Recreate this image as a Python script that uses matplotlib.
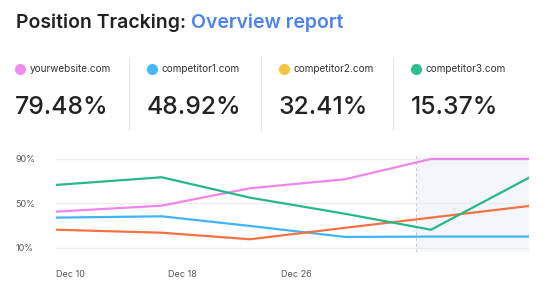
import matplotlib
matplotlib.use("Agg")
import matplotlib.pyplot as plt
from matplotlib.lines import Line2D

plt.rcParams['font.family'] = ['Inter', 'DejaVu Sans']

# ---- data ----
sites = ["yourwebsite.com", "competitor1.com", "competitor2.com", "competitor3.com"]
shares = ["79.48%", "48.92%", "32.41%", "15.37%"]
dot_colors = ["#f08de9", "#45b7fd", "#f6c443", "#2cc08f"]

days = [0, 7.52, 13.8, 20.55, 26.67, 33.64]  # days after Dec 10
your_site = [42.5, 47.9, 63.6, 71.7, 90, 90]
comp1 = [37.1, 38.3, 29.6, 19.7, 20, 20]
comp2 = [26.2, 23.5, 17.6, 27.9, 37.1, 47.6]
comp3 = [66.6, 73.5, 55.1, 40.6, 26.2, 73.1]
line_colors = ["#ee86ea", "#40b4f7", "#f27243", "#27b888"]

xtick_days = [0, 8, 16]
xtick_labels = ["Dec 10", "Dec 18", "Dec 26"]
ytick_vals = [10, 50, 90]
ytick_labels = ["10%", "50%", "90%"]
forecast_start = 25.6

W, H = 546, 301
fig = plt.figure(figsize=(W / 100, H / 100), dpi=100)
fig.patch.set_facecolor("white")

def fx(px):
    return px / W

def fy(py):
    return 1 - py / H

# header
t1 = fig.text(fx(16), fy(23), "Position Tracking: ", fontsize=14, fontweight="semibold",
              color="#222222", va="center", ha="left")
fig.canvas.draw()
bb = t1.get_window_extent()
fig.text(bb.x1 / W, fy(23), "Overview report", fontsize=14, fontweight="semibold",
         color="#4a82f0", va="center", ha="left")

# legend/stat columns
col_x = [16, 148, 280, 412]
for i in range(4):
    x0 = col_x[i]
    fig.add_artist(Line2D([fx(x0 + 4)], [fy(69)], marker="o", markersize=7,
                          color=dot_colors[i], linestyle="none"))
    fig.text(fx(x0 + 14), fy(68.5), sites[i], fontsize=7.2, color="#333333",
             va="center", ha="left")
    fig.text(fx(x0 - 1), fy(108), shares[i], fontsize=17.8, fontweight="medium",
             color="#222222", va="center", ha="left")
for sx in [129, 261, 393]:
    fig.add_artist(Line2D([fx(sx), fx(sx)], [fy(57), fy(130)], color="#e6e6e6", lw=0.8))

# chart
ax = fig.add_axes([fx(56), fy(252), fx(529) - fx(56), (252 - 155) / H])
ax.set_xlim(0, days[-1])
ax.set_ylim(6.1, 93.6)
for s in ax.spines.values():
    s.set_visible(False)

ax.axvspan(forecast_start, days[-1], color="#f4f6fb", zorder=0)
ax.axvline(forecast_start, color="#c8c8c8", lw=0.7, ls=(0, (3, 3)), zorder=1)
for v in ytick_vals:
    ax.axhline(v, color="#ececec", lw=1, zorder=1)

for series, c in zip([your_site, comp1, comp2, comp3], line_colors):
    ax.plot(days, series, color=c, lw=1.6, zorder=3, solid_joinstyle="miter")

ax.set_xticks(xtick_days)
ax.set_xticklabels(xtick_labels, ha="left", fontsize=6.5, color="#555555")
ax.set_yticks(ytick_vals)
ax.set_yticklabels(ytick_labels, ha="left", fontsize=6.5, color="#555555")
ax.tick_params(axis="x", length=0, pad=13)
ax.tick_params(axis="y", length=0, pad=29)

fig.savefig("out.png", dpi=100, facecolor="white")
